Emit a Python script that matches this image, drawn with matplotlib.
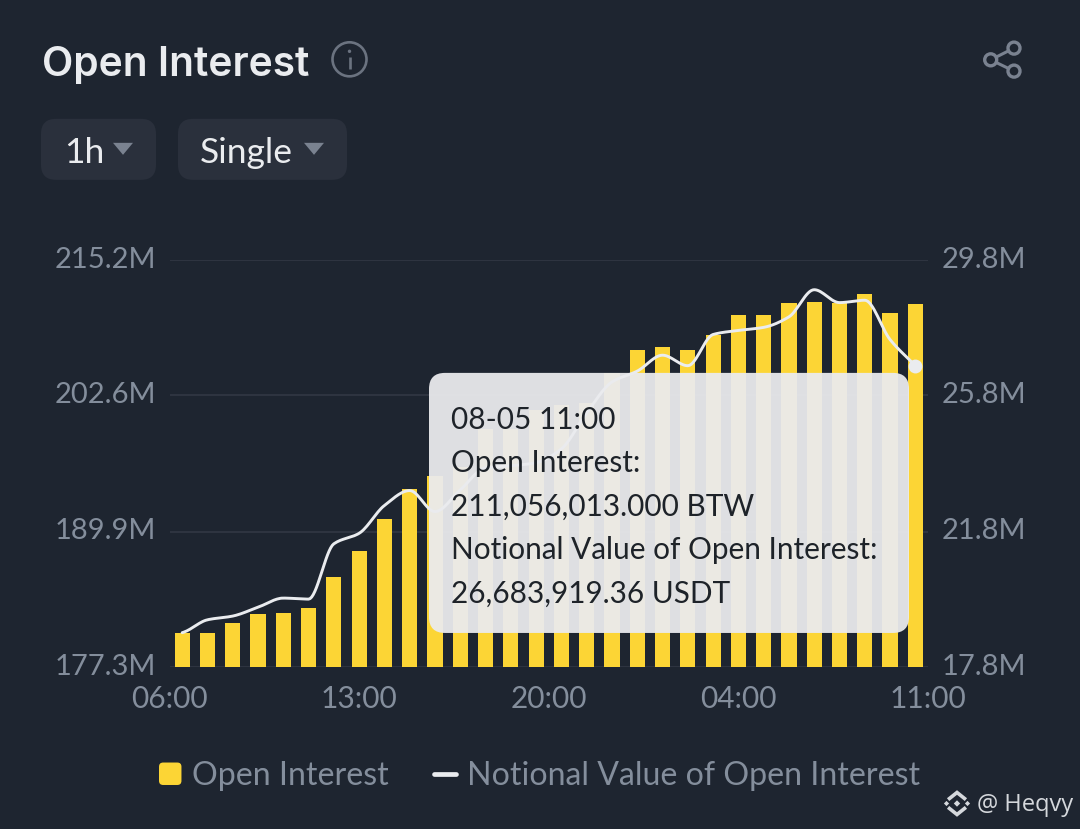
import numpy as np
import matplotlib
matplotlib.use("Agg")
import matplotlib.pyplot as plt
from matplotlib.patches import FancyBboxPatch, Circle, Polygon
from matplotlib.lines import Line2D
from matplotlib.legend_handler import HandlerPatch
from matplotlib.transforms import ScaledTranslation

# ---- data (millions) ----
open_interest = [180.49, 180.49, 181.37, 182.24, 182.30, 182.82, 185.65, 188.10, 191.08, 193.90,
                 195.05, 195.95, 199.46, 199.46, 201.23, 201.70, 201.86, 204.68, 206.82, 207.10,
                 206.79, 208.22, 210.08, 210.08, 211.20, 211.32, 211.17, 212.03, 210.27, 211.06]
notional_value = [18.81, 19.19, 19.30, 19.56, 19.83, 19.80, 21.43, 21.74, 22.56, 23.00,
                  22.38, 23.02, 23.67, 23.73, 23.82, 24.23, 25.29, 26.20, 26.52, 26.99,
                  26.68, 27.60, 27.72, 27.81, 28.12, 28.92, 28.54, 28.61, 27.45, 26.68]
x_positions = [0, 7.5, 15, 22.5, 30]
x_labels = ["06:00", "13:00", "20:00", "04:00", "11:00"]
left_ticks = [177.3, 189.9, 202.6, 215.2]
left_labels = ["177.3M", "189.9M", "202.6M", "215.2M"]
right_ticks = [17.8, 21.8, 25.8, 29.8]
right_labels = ["17.8M", "21.8M", "25.8M", "29.8M"]
tooltip_lines = ["08-05 11:00", "Open Interest:", "211,056,013.000 BTW",
                 "Notional Value of Open Interest:", "26,683,919.36 USDT"]

BG = "#1E2530"
YEL = "#FCD535"
GRID = "#2F3541"
MUTED = "#848E9C"
LIGHT = "#EAECEF"
FONT = "Lato"

plt.rcParams["font.family"] = [FONT, "DejaVu Sans"]
W, H = 1080, 829
fig = plt.figure(figsize=(W / 100, (H + 0.2) / 100), dpi=100, facecolor=BG)

ax = fig.add_axes([169.5 / W, (H - 667) / H, 758.5 / W, 407 / H], facecolor=BG)
xc = np.arange(len(open_interest)) + 0.5
ax.bar(xc, open_interest, width=0.6, color=YEL, zorder=3)
ax.set_xlim(0, 30)
ax.set_ylim(left_ticks[0], left_ticks[-1])
ax.set_yticks(left_ticks, left_labels)
ax.set_xticks(x_positions, x_labels)
ax.grid(axis="y", color=GRID, lw=1.4, zorder=0)
ax.set_axisbelow(True)
for s in ax.spines.values():
    s.set_visible(False)
ax.tick_params(axis="both", length=0, labelsize=21.5, labelcolor=MUTED)
ax.tick_params(axis="y", labelsize=21, pad=9.5)
ax.tick_params(axis="x", pad=13)

ax2 = ax.twinx()
ax2.set_ylim(right_ticks[0], right_ticks[-1])
ax2.set_yticks(right_ticks, right_labels)
for s in ax2.spines.values():
    s.set_visible(False)
ax2.tick_params(axis="y", length=0, labelsize=21, labelcolor=MUTED, pad=9.5)

# labels sit a little above their grid lines in the source
lift = ScaledTranslation(0, 3 / 100, fig.dpi_scale_trans)
for lab in ax.get_yticklabels() + ax2.get_yticklabels():
    lab.set_transform(lab.get_transform() + lift)


def smooth(x, y, n=16):
    """Monotone cubic curve through the data points, as the source's smoothed line."""
    x, y = np.asarray(x, float), np.asarray(y, float)
    h = np.diff(x)
    d = np.diff(y) / h
    m = np.zeros_like(y)
    for i in range(1, len(y) - 1):
        if d[i - 1] * d[i] > 0:
            m[i] = 2 * d[i - 1] * d[i] / (d[i - 1] + d[i])
    m[0], m[-1] = d[0] * 0.5, d[-1]
    xs, ys = [], []
    for i in range(len(y) - 1):
        t = np.linspace(0, 1, n, endpoint=False)
        v = ((2 * t**3 - 3 * t**2 + 1) * y[i] + (t**3 - 2 * t**2 + t) * h[i] * m[i]
             + (-2 * t**3 + 3 * t**2) * y[i + 1] + (t**3 - t**2) * h[i] * m[i + 1])
        xs.extend(x[i] + t * h[i]); ys.extend(v)
    xs.append(x[-1]); ys.append(y[-1])
    return xs, ys


sx, sy = smooth(xc, notional_value)
ax2.plot(sx, sy, color=LIGHT, lw=2.1, zorder=4, solid_capstyle="round")
ax2.plot(xc[-1], notional_value[-1], "o", color=LIGHT, ms=10, mew=0, zorder=5, clip_on=False)

# overlay in pixel coordinates for page furniture
ov = fig.add_axes([0, 0, 1, 1], facecolor="none")
ov.set_xlim(0, W); ov.set_ylim(H, 0); ov.axis("off")


def rrect(x0, y0, x1, y1, r, **kw):
    ov.add_patch(FancyBboxPatch((x0 + r, y0 + r), x1 - x0 - 2 * r, y1 - y0 - 2 * r,
                                boxstyle=f"round,pad={r},rounding_size={r}", lw=0, **kw))


ov.text(42, 75.5, "Open Interest", fontsize=29.3, fontweight="semibold", color=LIGHT, family="Inter")
ov.add_patch(Circle((349.5, 59.5), 17, fc="none", ec="#6B7380", lw=1.9))
ov.plot([349.5, 349.5], [57, 69], color="#6B7380", lw=1.9, solid_capstyle="butt")
ov.add_patch(Circle((349.5, 51.5), 1.7, fc="#6B7380", lw=0))

# share icon
sc = "#7A8290"
ov.plot([990.7, 1014], [60, 48.3], color=sc, lw=2.2)
ov.plot([990.7, 1014], [60, 71.3], color=sc, lw=2.2)
for cx, cy in [(1014, 48.3), (990.7, 60), (1014, 71.3)]:
    ov.add_patch(Circle((cx, cy), 6, fc=BG, ec=sc, lw=2.4, zorder=3))

# selectors
rrect(41, 119, 156, 180, 15, fc="#2A303C")
rrect(178, 119, 347, 180, 15, fc="#2A303C")
ov.text(64, 162.5, "1h", fontsize=25.5, color=LIGHT, family=FONT)
ov.text(200, 162.5, "Single", fontsize=25.5, color=LIGHT, family=FONT)
for x0 in (113, 304):
    ov.add_patch(Polygon([(x0, 143), (x0 + 20, 143), (x0 + 10, 155)], fc="#7A8290", lw=0))

# tooltip
rrect(429, 373, 909, 633, 16, fc="#EAEBEE", alpha=0.946, zorder=6)
for i, t in enumerate(tooltip_lines):
    ov.text(451, 428.5 + i * 43.5, t, fontsize=21.4, color="#1E2329", family=FONT, zorder=7)

# watermark
lg = "#D5D8DC"
cx, cy = 957, 803.5


def dia(x, y, r):
    ov.add_patch(Polygon([(x - r, y), (x, y - r), (x + r, y), (x, y + r)], fc=lg, lw=0))


dia(cx, cy, 3.2); dia(cx - 10.5, cy, 2.6); dia(cx + 10.5, cy, 2.6)
ov.plot([cx - 7.5, cx, cx + 7.5], [cy - 5, cy - 11, cy - 5], color=lg, lw=2.6, solid_joinstyle="miter")
ov.plot([cx - 7.5, cx, cx + 7.5], [cy + 5, cy + 11, cy + 5], color=lg, lw=2.6, solid_joinstyle="miter")
ov.text(977, 811, "@ Heqvy", fontsize=17, color=lg, family="Open Sans")


# legend
def rounded(legend, orig_handle, xdescent, ydescent, width, height, fontsize):
    return FancyBboxPatch((xdescent + 3, ydescent + 3), width - 6, height - 6,
                          boxstyle="round,pad=3,rounding_size=3", fc=YEL, lw=0)


h1 = plt.Rectangle((0, 0), 1, 1, fc=YEL, label="Open Interest")
h2 = Line2D([], [], color=LIGHT, lw=3.4, label="Notional Value of Open Interest", solid_capstyle="round")
fig.legend(handles=[h1, h2], loc="center left", bbox_to_anchor=(159 / W, (H - 776) / H),
           ncol=2, frameon=False, fontsize=23.1, labelcolor=MUTED, borderpad=0, borderaxespad=0,
           handlelength=0.7, handleheight=0.7, handletextpad=0.33, columnspacing=1.4,
           handler_map={h1: HandlerPatch(patch_func=rounded)})

fig.savefig("out.png", dpi=100, facecolor=BG)
